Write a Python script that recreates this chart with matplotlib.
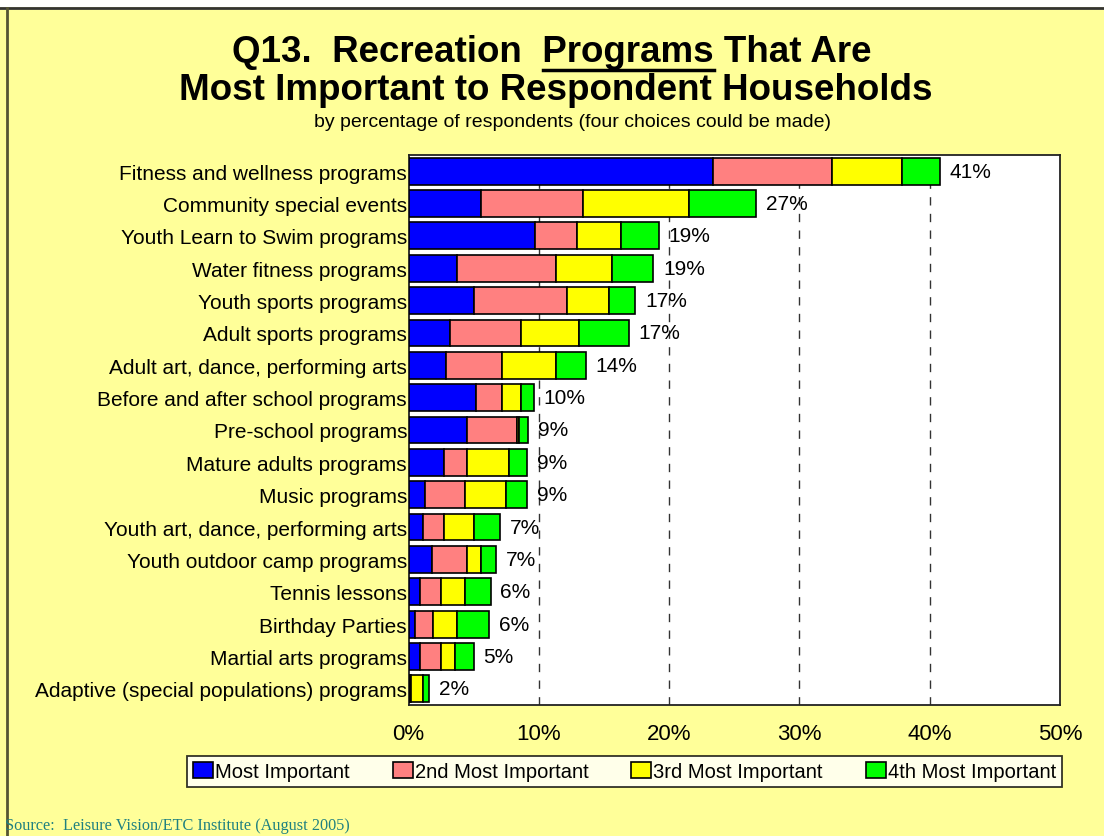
import matplotlib.pyplot as plt
from matplotlib.patches import Rectangle
import numpy as np

# Programs, top to bottom
programs = [
    "Fitness and wellness programs",
    "Community special events",
    "Youth Learn to Swim programs",
    "Water fitness programs",
    "Youth sports programs",
    "Adult sports programs",
    "Adult art, dance, performing arts",
    "Before and after school programs",
    "Pre-school programs",
    "Mature adults programs",
    "Music programs",
    "Youth art, dance, performing arts",
    "Youth outdoor camp programs",
    "Tennis lessons",
    "Birthday Parties",
    "Martial arts programs",
    "Adaptive (special populations) programs",
]

# percentage of respondents by choice rank
most_important = [23.4, 5.6, 9.7, 3.7, 5.0, 3.2, 2.9, 5.2, 4.5, 2.7, 1.3, 1.1, 1.8, 0.9, 0.5, 0.9, 0.1]
second_most = [9.1, 7.8, 3.2, 7.6, 7.2, 5.4, 4.3, 2.0, 3.8, 1.8, 3.0, 1.6, 2.7, 1.6, 1.4, 1.6, 0.1]
third_most = [5.4, 8.1, 3.4, 4.3, 3.2, 4.5, 4.1, 1.4, 0.2, 3.2, 3.2, 2.3, 1.1, 1.8, 1.8, 1.1, 0.9]
fourth_most = [2.9, 5.2, 2.9, 3.2, 2.0, 3.8, 2.3, 1.0, 0.7, 1.4, 1.6, 2.0, 1.1, 2.0, 2.5, 1.4, 0.5]

series_names = ["Most Important", "2nd Most Important", "3rd Most Important", "4th Most Important"]
series_colors = ["#0000FF", "#FF8080", "#FFFF00", "#00FF00"]
x_ticks = [0, 10, 20, 30, 40, 50]

W, H = 1104, 837
bg = "#FFFF99"
font = "Liberation Sans"

fig = plt.figure(figsize=(W / 100, H / 100), dpi=100)
fig.patch.set_facecolor(bg)

# white strip along the top and a dark frame line
fig.add_artist(Rectangle((0, 1 - 8 / H), 1, 8 / H, transform=fig.transFigure,
                         facecolor="white", edgecolor="none", zorder=0))
fig.add_artist(plt.Line2D([0, 1], [1 - 9 / H, 1 - 9 / H], transform=fig.transFigure,
                          color="#333333", lw=2))
fig.add_artist(plt.Line2D([6.5 / W, 6.5 / W], [0, 1 - 9 / H], transform=fig.transFigure,
                          color="#555533", lw=2))

ax = fig.add_axes([408.5 / W, 1 - 706 / H, (1060 - 408.5) / W, (706 - 156) / H])
ax.set_facecolor("white")

y = np.arange(len(programs))
left = np.zeros(len(programs))
handles = []
for vals, name, col in zip([most_important, second_most, third_most, fourth_most],
                           series_names, series_colors):
    b = ax.barh(y, vals, left=left, height=0.83, color=col, edgecolor="black",
                linewidth=1.2, label=name, zorder=3)
    handles.append(b)
    left = left + np.array(vals)

totals = left
for yi, t in zip(y, totals):
    ax.text(t + 0.75, yi, f"{int(np.round(t + 1e-9))}%", va="center", ha="left",
            fontsize=15, family=font, zorder=4)

ax.set_xlim(0, 50)
ax.set_ylim(len(programs) - 0.5, -0.5)
ax.set_xticks(x_ticks)
ax.set_xticklabels([f"{v}%" for v in x_ticks], fontsize=16, family=font)
ax.tick_params(axis="x", length=0, pad=13)
ax.set_yticks(y)
ax.set_yticklabels(programs, fontsize=15, family=font)
ax.tick_params(axis="y", length=0, pad=1)
for v in x_ticks[1:-1]:
    ax.axvline(v, color="#333333", lw=1, ls=(0, (6, 6)), zorder=1)
for s in ax.spines.values():
    s.set_color("#222222")
    s.set_linewidth(1.3)

title_kw = dict(fontsize=26.5, fontweight="bold", family=font)
line1 = "Q13.  Recreation  Programs That Are"
t1 = fig.text(552 / W, 1 - 53 / H, line1, ha="center", va="center", **title_kw)
fig.text(556 / W, 1 - 91 / H, "Most Important to Respondent Households", ha="center", va="center",
         **title_kw)

# underline under "Programs", measured from the rendered text
fig.canvas.draw()
r = fig.canvas.get_renderer()
full = t1.get_window_extent(r)
probe = fig.text(0, 0, "Q13.  Recreation  ", **title_kw)
x0 = full.x0 + probe.get_window_extent(r).width
probe.set_text("Q13.  Recreation  Programs")
x1 = full.x0 + probe.get_window_extent(r).width
probe.remove()
fig.add_artist(plt.Line2D([x0 / W, x1 / W], [1 - 71 / H, 1 - 71 / H], transform=fig.transFigure,
                          color="black", lw=2.5))

fig.text(572 / W, 1 - 123 / H, "by percentage of respondents (four choices could be made)",
         ha="center", va="center", fontsize=14, family=font)

leg = fig.legend(handles=handles, labels=series_names, loc="lower left",
                 bbox_to_anchor=(187 / W, 1 - 788 / H, (1062 - 187) / W, 32 / H),
                 mode="expand", ncol=4,
                 frameon=True, fancybox=False, edgecolor="black", facecolor="white",
                 prop={"family": font, "size": 14.5},
                 handlelength=1.0, handleheight=0.8, handletextpad=0.1,
                 borderpad=0.3, borderaxespad=0)
leg.get_frame().set_linewidth(1.3)

fig.text(5 / W, 1 - 826 / H, "Source:  Leisure Vision/ETC Institute (August 2005)",
         ha="left", va="center", fontsize=11.7, color="#1F8080", family="Liberation Serif")

fig.savefig("out.png", dpi=100, facecolor=bg)
